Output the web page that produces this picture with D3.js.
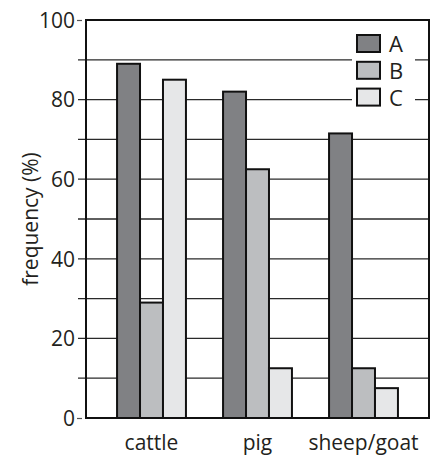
<!DOCTYPE html>
<html lang="en">
<head>
<meta charset="UTF-8">
<title>frequency by species</title>
<script src="https://cdn.jsdelivr.net/npm/d3@7"></script>
<style>
  body { margin: 0; background: #fff; }
  text { font-family: "Open Sans", "Noto Sans", sans-serif; fill: #231f20; }
</style>
</head>
<body>
<div id="container"></div>
<script>
// data
const categories = ['cattle', 'pig', 'sheep/goat'];
const seriesNames = ['A', 'B', 'C'];
const valuesA = [89, 82, 71.5];
const valuesB = [29, 62.5, 12.5];
const valuesC = [85, 12.5, 7.5];
const yTicks = [0, 20, 40, 60, 80, 100];
const colors = ['#808184', '#bcbec0', '#e6e7e8'];

const width = 438, height = 455;
const plotLeft = 86, plotRight = 429, plotTop = 20, plotBottom = 418;

const svg = d3.select('#container').append('svg')
  .attr('width', width)
  .attr('height', height);

const y = d3.scaleLinear().domain([0, 100]).range([plotBottom, plotTop]);

const x0 = d3.scaleBand()
  .domain(categories)
  .range([98.5, 416.5])
  .paddingInner(0.35)
  .paddingOuter(0.175);

const x1 = d3.scaleBand()
  .domain(seriesNames)
  .range([0, x0.bandwidth()]);

// gridlines every 10
svg.append('g')
  .selectAll('line')
  .data(d3.range(10, 100, 10))
  .join('line')
  .attr('x1', plotLeft - 8)
  .attr('x2', plotRight)
  .attr('y1', d => y(d))
  .attr('y2', d => y(d))
  .attr('stroke', '#2a2a2a')
  .attr('stroke-width', 1.3);

// y axis labels
const yAxis = svg.append('g')
  .attr('transform', `translate(${plotLeft},0)`)
  .call(d3.axisLeft(y).tickValues(yTicks).tickSize(0).tickPadding(11));
yAxis.select('.domain').remove();
yAxis.selectAll('text')
  .style('font-size', '21px')
  .attr('fill', '#231f20')
  .attr('dy', '0.35em');
// small dashes at 0 and 100
yAxis.selectAll('.tick')
  .filter(d => d === 0 || d === 100)
  .append('line')
  .attr('x1', -9).attr('x2', -4)
  .attr('stroke', '#555').attr('stroke-width', 1.2);

// bars
const rows = categories.map((c, i) => ({ cat: c, vals: [valuesA[i], valuesB[i], valuesC[i]] }));
svg.append('g')
  .selectAll('g')
  .data(rows)
  .join('g')
  .attr('transform', d => `translate(${x0(d.cat)},0)`)
  .selectAll('rect')
  .data(d => d.vals.map((v, j) => ({ key: seriesNames[j], value: v, j })))
  .join('rect')
  .attr('x', d => x1(d.key))
  .attr('y', d => y(d.value))
  .attr('width', x1.bandwidth())
  .attr('height', d => y(0) - y(d.value))
  .attr('fill', d => colors[d.j])
  .attr('stroke', '#111')
  .attr('stroke-width', 2);

// frame
svg.append('rect')
  .attr('x', plotLeft).attr('y', plotTop)
  .attr('width', plotRight - plotLeft).attr('height', plotBottom - plotTop)
  .attr('fill', 'none')
  .attr('stroke', '#111')
  .attr('stroke-width', 2);

// x labels
svg.append('g')
  .selectAll('text')
  .data(categories)
  .join('text')
  .attr('x', d => x0(d) + x0.bandwidth() / 2)
  .attr('y', 450)
  .attr('text-anchor', 'middle')
  .style('font-size', '21px')
  .text(d => d);

// y title
svg.append('text')
  .attr('transform', 'translate(38,219) rotate(-90)')
  .attr('text-anchor', 'middle')
  .style('font-size', '21px')
  .text('frequency (%)');

// legend
const legend = svg.append('g');
legend.append('rect')
  .attr('x', 352).attr('y', 28)
  .attr('width', 63).attr('height', 84)
  .attr('fill', '#fff');
const items = legend.selectAll('g')
  .data(seriesNames)
  .join('g')
  .attr('transform', (d, i) => `translate(357,${35 + i * 26.8})`);
items.append('rect')
  .attr('width', 23).attr('height', 17)
  .attr('fill', (d, i) => colors[i])
  .attr('stroke', '#111')
  .attr('stroke-width', 2);
items.append('text')
  .attr('x', 32)
  .attr('y', 17)
  .style('font-size', '22px')
  .text(d => d);
</script>
</body>
</html>
